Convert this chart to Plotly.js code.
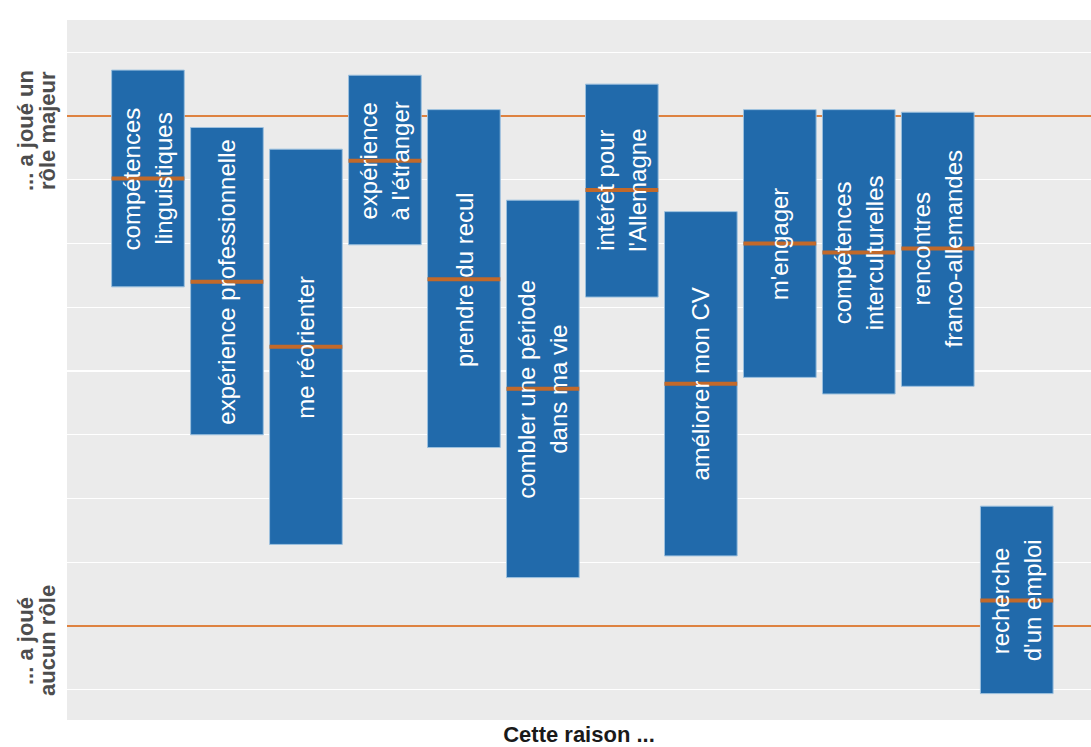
<!DOCTYPE html>
<html>
<head>
<meta charset="utf-8">
<script src="https://cdn.plot.ly/plotly-3.0.1.min.js"></script>
<style>
html,body{margin:0;padding:0;background:#fff;}
#chart{width:1091px;height:747px;}
</style>
</head>
<body>
<div id="chart"></div>
<script>
// Reasons (two text lines per label, second may be empty)
const labelLine1 = ["compétences", "expérience professionnelle", "me réorienter", "expérience", "prendre du recul", "combler une période", "intérêt pour", "améliorer mon CV", "m'engager", "compétences", "rencontres", "recherche"];
const labelLine2 = ["linguistiques", "", "", "à l'étranger", "", "dans ma vie", "l'Allemagne", "", "", "interculturelles", "franco-allemandes", "d'un emploi"];
// scale: 1 = "a joué aucun rôle", 5 = "a joué un rôle majeur"
const upper  = [5.36, 4.91, 4.74, 5.32, 5.05, 4.34, 5.25, 4.25, 5.05, 5.05, 5.03, 1.94];
const lower  = [3.66, 2.50, 1.64, 3.99, 2.40, 1.38, 3.58, 1.55, 2.95, 2.82, 2.88, 0.47];
const median = [4.51, 3.70, 3.19, 4.65, 3.72, 2.86, 4.42, 2.90, 4.00, 3.93, 3.96, 1.20];
const tickValues = [1, 5];
const tickLine1 = ["... a joué", "... a joué un"];
const tickLine2 = ["aucun rôle", "rôle majeur"];
const xTitle = "Cette raison ...";

const pos = labelLine1.map((_, i) => i + 1);
const FONT = 'Liberation Sans, Arial, sans-serif';

const bars = {
  type: 'bar',
  x: pos,
  base: lower,
  y: upper.map((u, i) => u - lower[i]),
  width: 0.92,
  marker: {color: '#216AAB', line: {color: '#9cc0de', width: 1}},
  hoverinfo: 'skip',
  showlegend: false
};

const medians = {
  type: 'scatter',
  mode: 'markers',
  x: pos,
  y: median,
  marker: {symbol: 'line-ew', size: 52, line: {color: '#C2692A', width: 4}},
  hoverinfo: 'skip',
  showlegend: false
};

const annotations = [];
pos.forEach((p, i) => {
  const two = labelLine2[i] !== "";
  annotations.push({
    x: p, y: median[i], xref: 'x', yref: 'y',
    text: labelLine1[i], textangle: -90, showarrow: false,
    xshift: two ? -16 : 0,
    font: {family: FONT, size: 24, color: '#ffffff'}
  });
  if (two) {
    annotations.push({
      x: p, y: median[i], xref: 'x', yref: 'y',
      text: labelLine2[i], textangle: -90, showarrow: false,
      xshift: 16,
      font: {family: FONT, size: 24, color: '#ffffff'}
    });
  }
});
// level labels on the y axis side
tickValues.forEach((v, i) => {
  annotations.push({
    x: 0, xref: 'paper', y: v, yref: 'y', yshift: -15,
    text: '<b>' + tickLine1[i] + '</b>', textangle: -90, showarrow: false,
    xanchor: 'center', xshift: -42,
    font: {family: FONT, size: 22, color: '#4D4D4D'}
  });
  annotations.push({
    x: 0, xref: 'paper', y: v, yref: 'y', yshift: -15,
    text: '<b>' + tickLine2[i] + '</b>', textangle: -90, showarrow: false,
    xanchor: 'center', xshift: -20,
    font: {family: FONT, size: 22, color: '#4D4D4D'}
  });
});

const shapes = tickValues.map(v => ({
  type: 'line', xref: 'x', x0: -0.025, x1: 12.94, yref: 'y', y0: v, y1: v,
  line: {color: '#DE8240', width: 2}, layer: 'between'
}));

const layout = {
  width: 1091, height: 747,
  margin: {l: 67, r: 0, t: 20, b: 27, pad: 0},
  paper_bgcolor: '#ffffff',
  plot_bgcolor: '#EBEBEB',
  font: {family: FONT},
  xaxis: {
    range: [-0.025, 12.94],
    showticklabels: false, ticks: '', showgrid: false, zeroline: false,
    title: {text: '<b>' + xTitle + '</b>', standoff: 10, font: {size: 22, color: '#1a1a1a'}},
    automargin: false
  },
  yaxis: {
    range: [0.263, 5.753],
    tickvals: tickValues, showticklabels: false, ticks: '',
    showgrid: false, zeroline: false, automargin: false,
    minor: {tick0: 0.5, dtick: 0.5, showgrid: true, gridcolor: '#ffffff', gridwidth: 1.2, ticks: ''}
  },
  shapes: shapes,
  annotations: annotations,
  bargap: 0
};

Plotly.newPlot('chart', [bars, medians], layout, {displayModeBar: false, staticPlot: true});
</script>
</body>
</html>
